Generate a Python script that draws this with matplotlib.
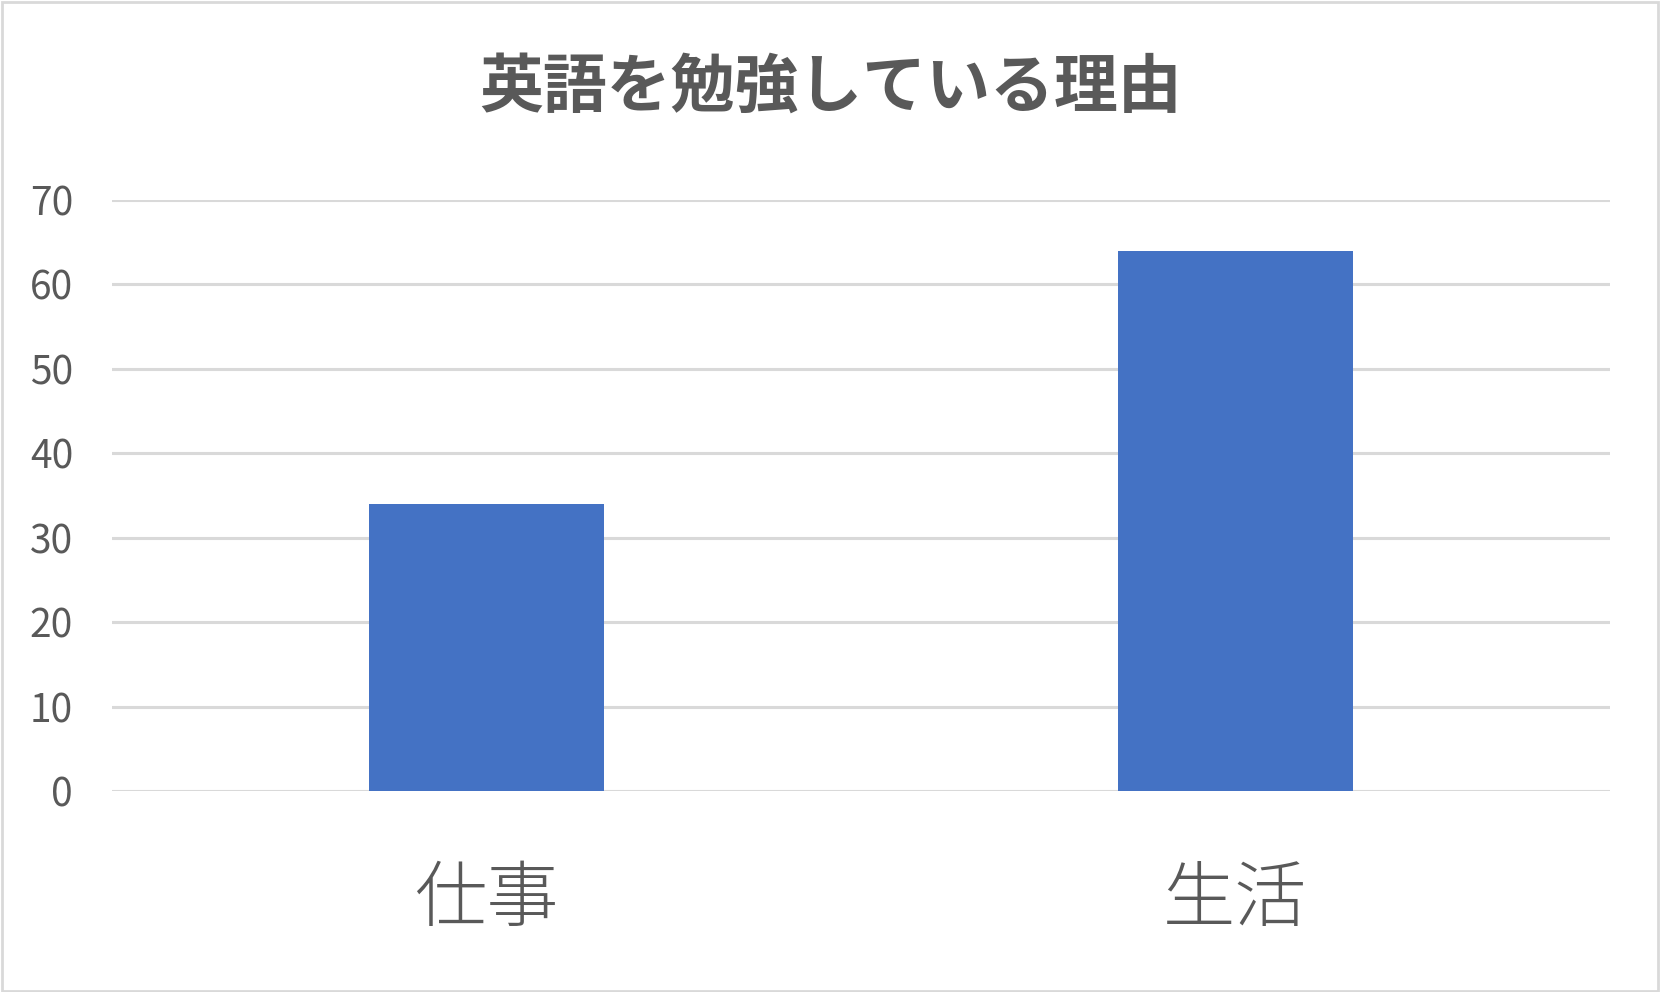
import matplotlib
matplotlib.use('Agg')
import matplotlib.pyplot as plt
from matplotlib.patches import Rectangle

plt.rcParams['font.family'] = ['Noto Sans CJK JP', 'DejaVu Sans']

title = '英語を勉強している理由'
categories = ['仕事', '生活']
values = [34, 64]
yticks = [0, 10, 20, 30, 40, 50, 60, 70]

text_color = '#595959'
bar_color = '#4472C4'
grid_color = '#D9D9D9'

fig = plt.figure(figsize=(16.61, 9.92), dpi=100)
ax = fig.add_axes([112 / 1661, 1 - 791 / 992, 1498 / 1661, 591 / 992])

ax.bar(range(len(categories)), values, width=0.314, color=bar_color, zorder=3)

ax.set_xlim(-0.5, len(categories) - 0.5)
ax.set_ylim(0, 70)
ax.set_yticks(yticks)
ax.set_yticklabels([str(v) for v in yticks], fontsize=28, color=text_color)
ax.set_xticks(range(len(categories)))
ax.set_xticklabels(categories, fontsize=52, color=text_color, fontweight='light')
ax.tick_params(axis='y', length=0, pad=28)
ax.tick_params(axis='x', length=0, pad=52)
ax.grid(axis='y', color=grid_color, linewidth=2.2, zorder=0)
for s in ax.spines.values():
    s.set_visible(False)

fig.text(0.5, 1 - 88 / 992, title, ha='center', va='center',
         fontsize=46, fontweight='bold', color=text_color)

# outer frame of the chart area
fig.patches.append(Rectangle((0.001, 0.001), 0.997, 0.997, transform=fig.transFigure,
                             fill=False, edgecolor='#D9D9D9', linewidth=2))

fig.savefig('out.png', dpi=100)
